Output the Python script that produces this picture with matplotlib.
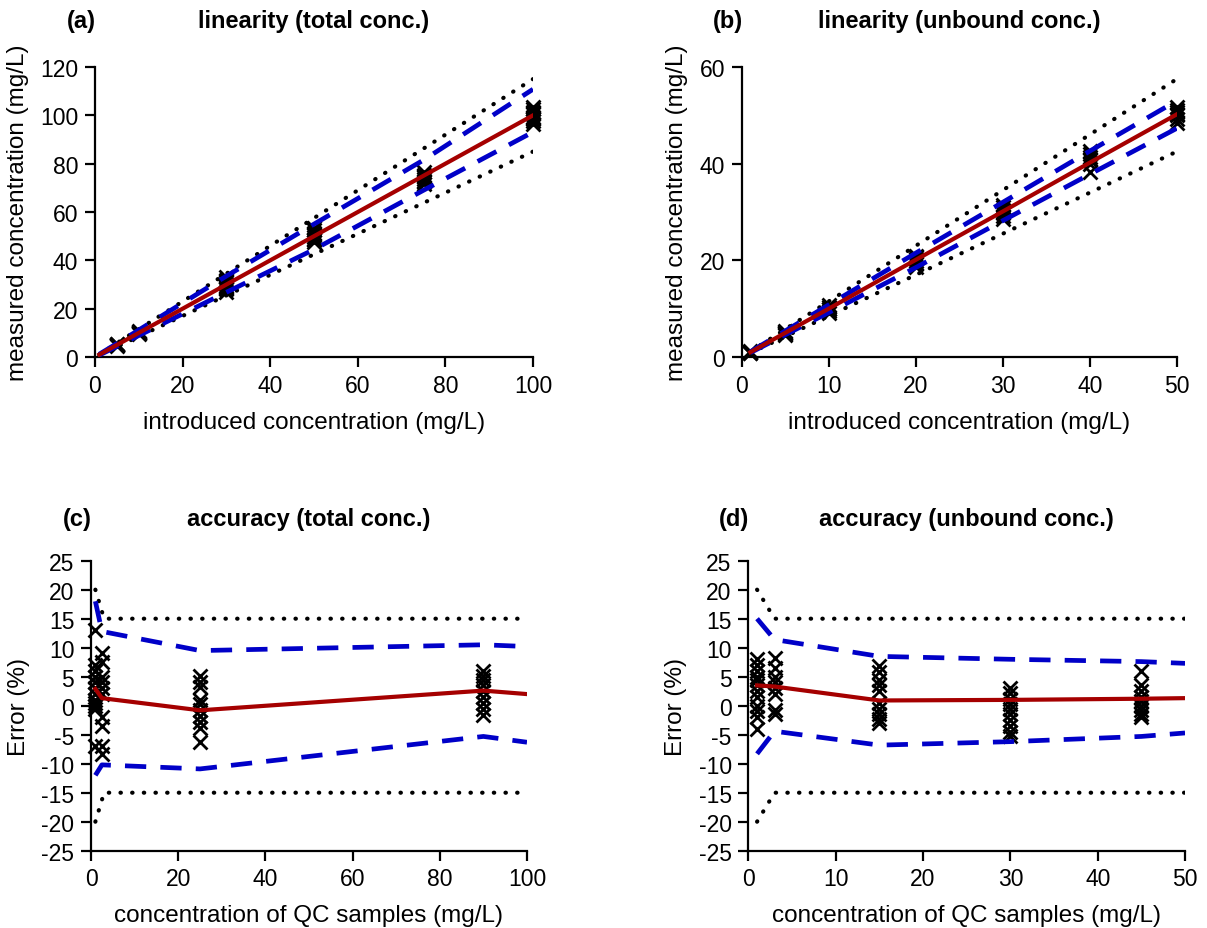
import numpy as np
import matplotlib
matplotlib.use("Agg")
import matplotlib.pyplot as plt

plt.rcParams['font.family'] = ['Liberation Sans', 'DejaVu Sans']
plt.rcParams['axes.unicode_minus'] = False

RED = '#a50000'
BLUE = '#0000c8'

# ---- linearity, total concentration (mg/L) ----
lin_tot_levels = [5, 10, 30, 50, 75, 100]
lin_tot_meas = [
    [4.6, 4.9, 5.1, 5.3, 5.0, 4.8, 5.2],
    [9.4, 9.8, 10.1, 10.4, 9.9, 10.2, 10.6],
    [27.0, 28.5, 29.5, 30.2, 31.0, 32.0, 33.0, 29.0, 31.5, 28.0],
    [47.5, 48.5, 49.5, 50.5, 51.5, 52.5, 53.5, 49.0, 51.0],
    [71.5, 72.5, 73.5, 74.5, 75.5, 76.5, 73.0, 75.0],
    [96.5, 97.5, 98.5, 99.5, 100.5, 101.5, 102.5, 103.5, 99.0, 101.0],
]
lin_tot_grid = [1, 5, 10, 30, 50, 75, 100]
lin_tot_fit = [1.0, 5.0, 10.0, 30.0, 50.0, 75.0, 100.0]
lin_tot_upper = [1.2, 5.6, 11.2, 33.5, 55.0, 81.5, 110.8]
lin_tot_lower = [0.8, 4.4, 8.9, 26.8, 44.5, 69.0, 93.1]

# ---- linearity, unbound concentration (mg/L) ----
lin_unb_levels = [1, 5, 10, 20, 30, 40, 50]
lin_unb_meas = [
    [0.8, 1.0, 1.1, 0.9, 1.2],
    [4.6, 4.9, 5.2, 5.4, 5.0, 4.8],
    [9.2, 9.6, 10.0, 10.4, 10.8, 9.9],
    [18.6, 19.3, 19.8, 20.2, 20.6, 21.0, 19.5],
    [28.6, 29.2, 29.8, 30.4, 31.0, 31.5, 30.0],
    [38.2, 40.0, 40.8, 41.4, 42.0, 42.6, 41.0],
    [48.4, 49.2, 50.0, 50.6, 51.2, 51.8, 50.3],
]
lin_unb_grid = [1, 5, 10, 20, 30, 40, 50]
lin_unb_fit = [1.0, 5.0, 10.0, 20.1, 30.1, 40.2, 50.2]
lin_unb_upper = [1.1, 5.4, 10.8, 21.5, 32.0, 42.6, 53.0]
lin_unb_lower = [0.9, 4.6, 9.2, 18.5, 28.2, 37.8, 47.3]

# ---- accuracy, total concentration (error %) ----
acc_tot_qc = [1, 2.5, 25, 90]
acc_tot_err = [
    [13.0, 7.0, 6.0, 5.0, 4.0, 3.0, 2.0, 1.0, 0.5, 0.0, -0.5, -7.0],
    [9.0, 7.5, 5.0, 4.0, 3.0, 2.0, -2.0, -3.5, -7.0, -8.3],
    [5.2, 4.0, 3.2, 1.0, 0.3, -0.8, -1.8, -2.8, -3.8, -6.2],
    [6.0, 5.2, 4.4, 3.5, 2.5, 1.5, 0.5, -0.5, -1.6],
]
acc_tot_grid = [1, 2.5, 25, 90, 100]
acc_tot_bias = [2.9, 1.3, -0.8, 2.6, 2.0]
acc_tot_upper = [18.0, 12.8, 9.5, 10.5, 10.2]
acc_tot_lower = [-12.0, -10.2, -10.9, -5.3, -6.3]
acc_tot_lim_x = [1, 3, 100]

# ---- accuracy, unbound concentration (error %) ----
acc_unb_qc = [1, 3, 15, 30, 45]
acc_unb_err = [
    [8.0, 7.0, 6.0, 5.0, 4.5, 3.5, 2.5, 1.5, 0.0, -1.0, -2.0, -4.0],
    [8.3, 6.5, 5.0, 4.0, 3.0, 2.0, -0.8, -1.5],
    [6.8, 5.8, 4.5, 3.5, 2.5, 0.5, -0.5, -1.5, -2.3, -3.0],
    [3.0, 2.2, 1.2, 0.3, -0.5, -1.5, -2.5, -3.5, -4.5, -5.3],
    [6.0, 3.5, 2.5, 1.5, 0.8, 0.0, -0.8, -1.5, -2.0],
]
acc_unb_grid = [1, 3, 15, 30, 45, 50]
acc_unb_bias = [3.5, 3.3, 0.9, 1.0, 1.2, 1.3]
acc_unb_upper = [15.0, 11.4, 8.5, 8.0, 7.6, 7.3]
acc_unb_lower = [-8.3, -4.4, -6.8, -6.2, -5.3, -4.7]
acc_unb_lim_x = [1, 3, 50]

# acceptance limits: 20 % at LLOQ, 15 % elsewhere
acc_lim = [20, 15, 15]

DOTS = (0, (0.1, 2.7))


def style_axes(ax):
    for side in ['top', 'right']:
        ax.spines[side].set_visible(False)
    for side in ['left', 'bottom']:
        ax.spines[side].set_linewidth(1.6)
    ax.tick_params(direction='out', length=7, width=1.6, labelsize=16.5, pad=5)


def add_title(ax, tag, text, y):
    ax.text(-0.032, y, tag, transform=ax.transAxes, fontsize=17,
            fontweight='bold', ha='center', va='center')
    ax.text(0.5, y, text, transform=ax.transAxes, fontsize=17,
            fontweight='bold', ha='center', va='center')


def draw_crosses(ax, xs, ys):
    for x, vals in zip(xs, ys):
        ax.plot([x] * len(vals), vals, 'x', color='black', ms=10.5, mew=2.0,
                zorder=2, clip_on=False)


def draw_lines(ax, gx, fit, up, lo, lx, lu, ll):
    for yy in (lu, ll):
        ax.plot(lx, yy, color='black', lw=3, linestyle=DOTS,
                dash_capstyle='round', zorder=3)
    for yy in (up, lo):
        ax.plot(gx, yy, color=BLUE, lw=3.4, linestyle=(0, (4.5, 3)), zorder=4)
    ax.plot(gx, fit, '-', color=RED, lw=3, zorder=5)


def labels(ax, xl, yl):
    ax.set_xlabel(xl, fontsize=17.5, labelpad=10)
    ax.set_ylabel(yl, fontsize=17.5, labelpad=8)


fig = plt.figure(figsize=(12.07, 9.29), dpi=100)

# (a)
ax = fig.add_axes([0.0787, 0.6146, 0.3629, 0.3122])
draw_crosses(ax, lin_tot_levels, lin_tot_meas)
gx = np.array(lin_tot_grid, dtype=float)
draw_lines(ax, gx, lin_tot_fit, lin_tot_upper, lin_tot_lower,
           gx, gx * 1.15, gx * 0.85)
ax.set_xlim(0, 100)
ax.set_ylim(0, 120)
ax.set_xticks(range(0, 101, 20))
ax.set_yticks(range(0, 121, 20))
labels(ax, 'introduced concentration (mg/L)', 'measured concentration (mg/L)')
style_axes(ax)
add_title(ax, '(a)', 'linearity (total conc.)', 1.16)

# (b)
ax = fig.add_axes([0.6145, 0.6146, 0.3604, 0.3122])
draw_crosses(ax, lin_unb_levels, lin_unb_meas)
gx = np.array(lin_unb_grid, dtype=float)
draw_lines(ax, gx, lin_unb_fit, lin_unb_upper, lin_unb_lower,
           gx, gx * 1.15, gx * 0.85)
ax.set_xlim(0, 50)
ax.set_ylim(0, 60)
ax.set_xticks(range(0, 51, 10))
ax.set_yticks(range(0, 61, 20))
labels(ax, 'introduced concentration (mg/L)', 'measured concentration (mg/L)')
style_axes(ax)
add_title(ax, '(b)', 'linearity (unbound conc.)', 1.16)

# (c)
ax = fig.add_axes([0.0754, 0.0832, 0.3612, 0.3122])
draw_crosses(ax, acc_tot_qc, acc_tot_err)
lim = np.array(acc_lim)
draw_lines(ax, acc_tot_grid, acc_tot_bias, acc_tot_upper, acc_tot_lower,
           acc_tot_lim_x, lim, -lim)
ax.set_xlim(0, 100)
ax.set_ylim(-25, 25)
ax.set_xticks(range(0, 101, 20))
ax.set_yticks(range(-25, 26, 5))
labels(ax, 'concentration of QC samples (mg/L)', 'Error (%)')
style_axes(ax)
add_title(ax, '(c)', 'accuracy (total conc.)', 1.145)

# (d)
ax = fig.add_axes([0.6200, 0.0832, 0.3618, 0.3122])
draw_crosses(ax, acc_unb_qc, acc_unb_err)
draw_lines(ax, acc_unb_grid, acc_unb_bias, acc_unb_upper, acc_unb_lower,
           acc_unb_lim_x, lim, -lim)
ax.set_xlim(0, 50)
ax.set_ylim(-25, 25)
ax.set_xticks(range(0, 51, 10))
ax.set_yticks(range(-25, 26, 5))
labels(ax, 'concentration of QC samples (mg/L)', 'Error (%)')
style_axes(ax)
add_title(ax, '(d)', 'accuracy (unbound conc.)', 1.145)

fig.savefig('out.png', dpi=100)
